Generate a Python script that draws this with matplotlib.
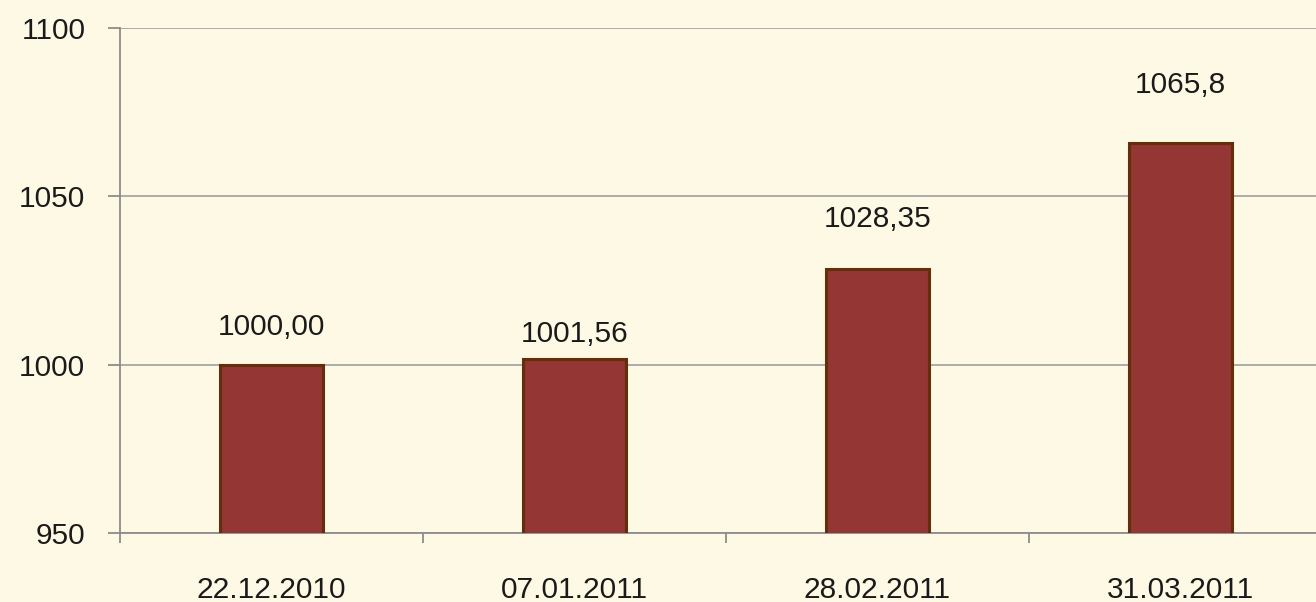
import matplotlib
matplotlib.use("Agg")
import matplotlib.pyplot as plt
import numpy as np

categories = ["22.12.2010", "07.01.2011", "28.02.2011", "31.03.2011"]
values = [1000.00, 1001.56, 1028.35, 1065.8]
value_labels = ["1000,00", "1001,56", "1028,35", "1065,8"]
y_ticks = [950, 1000, 1050, 1100]

# style: label baseline offset above bar top, pixels
label_offsets_px = [30, 17, 42, 50]

BG = "#FEF9E4"
BAR = "#943634"
EDGE = "#622F0A"
GRID = "#A6A6A6"
AXC = "#8C8C8C"

plt.rcParams['font.family'] = ['Liberation Sans', 'DejaVu Sans']

W, H = 1316, 602
fig = plt.figure(figsize=(W / 100, H / 100), dpi=100, facecolor=BG)
ax = fig.add_axes([120 / W, (H - 533) / H, (W - 120) / W, 505 / H], facecolor=BG)

x = np.arange(len(categories))
ax.bar(x, values, width=0.337, bottom=0, color=BAR, edgecolor=EDGE, linewidth=2.2, zorder=3)

ax.set_yticks(y_ticks)
ax.set_yticklabels([str(v) for v in y_ticks], fontsize=21.5, color="#1a1a1a")
ax.yaxis.grid(True, color=GRID, linewidth=1.3, zorder=0)
ax.tick_params(axis='y', length=9, width=1.3, color=AXC, pad=16, direction='out')

ax.set_xticks(x)
ax.set_xticklabels(categories, fontsize=21.5, color="#1a1a1a")
ax.tick_params(axis='x', which='major', length=0, pad=31)
ax.set_xticks(np.arange(-0.5, len(categories) + 0.5, 1), minor=True)
ax.tick_params(axis='x', which='minor', length=7, width=1.3, color=AXC, direction='out')

ax.set_ylim(950, 1100)
ax.set_xlim(-0.5, -0.5 + (W - 120) / 303)

for s in ['top', 'right']:
    ax.spines[s].set_visible(False)
for s in ['left', 'bottom']:
    ax.spines[s].set_color(AXC)
    ax.spines[s].set_linewidth(1.3)

for xi, v, lab, off in zip(x, values, value_labels, label_offsets_px):
    ax.annotate(lab, (xi, v), xytext=(0, off * 0.72), textcoords='offset points',
                ha='center', va='baseline', fontsize=21.5, color="#1a1a1a")

fig.savefig("out.png", dpi=100, facecolor=BG)
